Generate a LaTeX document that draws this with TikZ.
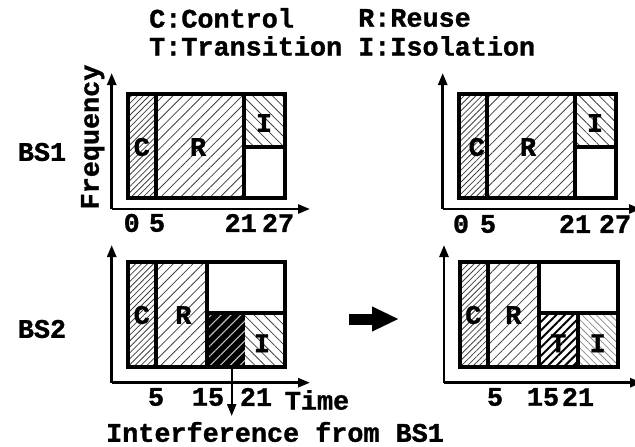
\documentclass[tikz,border=0pt]{standalone}
\usepackage{fontspec}
\setmainfont{Liberation Mono}[BoldFeatures={FakeBold=1.2}]
\usetikzlibrary{arrows.meta,patterns.meta}

\tikzset{
  lbl/.style={font=\bfseries\fontsize{26.8}{30}\selectfont, inner sep=0pt},
  axis/.style={line width=2.6pt, -{Triangle[length=12pt,width=9pt]}},
  frameline/.style={line width=4pt},
  hatchC/.style={pattern={Lines[angle=45,distance=4.2pt,line width=0.8pt]}, pattern color=black!75},
  hatchR/.style={pattern={Lines[angle=45,distance=7pt,line width=0.8pt]}, pattern color=black!75},
  hatchI/.style={pattern={Lines[angle=-45,distance=7pt,line width=0.8pt]}, pattern color=black!75},
  hatchIlight/.style={pattern={Lines[angle=-45,distance=5pt,line width=0.8pt]}, pattern color=black!45},
  hatchT/.style={pattern={Lines[angle=45,distance=6pt,line width=2pt]}, pattern color=black},
  hatchX/.style={pattern={Lines[angle=45,distance=7pt,line width=1.1pt]}, pattern color=black!25},
  bigarrow/.style={line width=11pt, -{Triangle[length=27pt,width=23pt]}},
}

\begin{document}
\begin{tikzpicture}[x=1pt,y=-1pt]
\useasboundingbox (0,0) rectangle (635,447);

% legend
\node[lbl, anchor=west] (legC) at (149,18) {C:Control};
\node[lbl, anchor=west] (legT) at (149,46) {T:Transition};
\node[lbl, anchor=west] (legR) at (358,18) {R:Reuse};
\node[lbl, anchor=west] (legI) at (358,46) {I:Isolation};

% row labels
\node[lbl] (bs1) at (42,152) {BS1};
\node[lbl] (bs2) at (42,329) {BS2};

% ---------- BS1, before ----------
\coordinate (o1) at (111.7,209);
\coordinate (y1) at (111.7,73);
\coordinate (x1) at (310,209);
\draw[axis] (o1) -- (y1);
\draw[axis] (o1) -- (x1);
\fill[hatchC] (128.3,94.3) rectangle (156,197.7);
\fill[hatchR] (156,94.3) rectangle (244,197.7);
\fill[hatchI] (244,94.3) rectangle (285,147.3);
\draw[frameline] (128.3,94.3) rectangle (285,197.7);
\draw[frameline] (156,94.3) -- (156,197.7);
\draw[frameline] (244,94.3) -- (244,197.7);
\draw[frameline] (244,147.3) -- (285,147.3);
\node[lbl] (c1) at (141.7,147) {C};
\node[lbl] (r1) at (198,147) {R};
\node[lbl] (i1) at (264,123) {I};
\node[lbl] (t10) at (131.7,223) {0};
\node[lbl] (t15) at (157,223) {5};
\node[lbl] (t121) at (240.7,223) {21};
\node[lbl] (t127) at (278,223) {27};
\node[lbl, rotate=90] (freq) at (92.7,137) {Frequency};

% ---------- BS1, after ----------
\begin{scope}[xshift=331pt]
\coordinate (o2) at (111.7,209);
\coordinate (y2) at (111.7,73);
\coordinate (x2) at (310,209);
\draw[axis] (o2) -- (y2);
\draw[axis] (o2) -- (x2);
\fill[hatchC] (128.3,94.3) rectangle (156,197.7);
\fill[hatchR] (156,94.3) rectangle (244,197.7);
\fill[hatchI] (244,94.3) rectangle (285,147.3);
\draw[frameline] (128.3,94.3) rectangle (285,197.7);
\draw[frameline] (156,94.3) -- (156,197.7);
\draw[frameline] (244,94.3) -- (244,197.7);
\draw[frameline] (244,147.3) -- (285,147.3);
\node[lbl] (c2) at (145.7,147) {C};
\node[lbl] (r2) at (197,147) {R};
\node[lbl] (i2) at (264,123) {I};
\node[lbl] (t20) at (130,224) {0};
\node[lbl] (t25) at (157,224) {5};
\node[lbl] (t221) at (244,224) {21};
\node[lbl] (t227) at (284,224) {27};
\end{scope}

% ---------- BS2, before ----------
\coordinate (o3) at (111.7,382.7);
\coordinate (y3) at (111.7,245);
\coordinate (x3) at (310,382.7);
\draw[axis] (o3) -- (y3);
\draw[axis] (o3) -- (x3);
\fill[hatchC] (128.3,262.3) rectangle (156,366.7);
\fill[hatchR] (156,262.3) rectangle (206.7,366.7);
\fill[black] (206.7,313.3) rectangle (245,366.7);
\fill[hatchX] (206.7,313.3) rectangle (245,366.7);
\fill[hatchI] (245,313.3) rectangle (285,366.7);
\draw[frameline] (128.3,262.3) rectangle (285,366.7);
\draw[frameline] (156,262.3) -- (156,366.7);
\draw[frameline] (206.7,262.3) -- (206.7,366.7);
\draw[frameline] (206.7,313.3) -- (285,313.3);
\node[lbl] (c3) at (141.7,315) {C};
\node[lbl] (r3) at (183.3,315) {R};
\node[lbl] (i3) at (262,343.3) {I};
\node[lbl] (t35) at (156,397) {5};
\node[lbl] (t315) at (208,397) {15};
\node[lbl] (t321) at (256,397) {21};
\node[lbl] (time) at (317,400) {Time};
\coordinate (intf) at (231.7,366.7);
\coordinate (intfend) at (231.7,416);
\draw[axis, line width=2.2pt] (intf) -- (intfend);
\node[lbl, anchor=west] (intftext) at (106,432) {Interference from BS1};

% transition arrow
\coordinate (ba) at (349,319);
\coordinate (bb) at (399,319);
\draw[bigarrow] (ba) -- (bb);

% ---------- BS2, after ----------
\coordinate (o4) at (444,382.7);
\coordinate (y4) at (444,245);
\coordinate (x4) at (642,382.7);
\draw[axis] (o4) -- (y4);
\draw[axis] (o4) -- (x4);
\fill[hatchC] (460,262.3) rectangle (488.3,366.7);
\fill[hatchR] (488.3,262.3) rectangle (539,366.7);
\fill[hatchT] (539,313.3) rectangle (577.7,366.7);
\fill[hatchIlight] (577.7,313.3) rectangle (617.7,366.7);
\draw[frameline] (460,262.3) rectangle (617.7,366.7);
\draw[frameline] (488.3,262.3) -- (488.3,366.7);
\draw[frameline] (539,262.3) -- (539,366.7);
\draw[frameline] (577.7,313.3) -- (577.7,366.7);
\draw[frameline] (539,313.3) -- (617.7,313.3);
\node[lbl] (c4) at (473.3,315) {C};
\node[lbl] (r4) at (513.3,315) {R};
\node[lbl] (t4) at (558.3,343.3) {T};
\node[lbl] (i4) at (597.7,343.3) {I};
\node[lbl] (t45) at (495,397) {5};
\node[lbl] (t415) at (543,397) {15};
\node[lbl] (t421) at (578,397) {21};
\end{tikzpicture}
\end{document}
